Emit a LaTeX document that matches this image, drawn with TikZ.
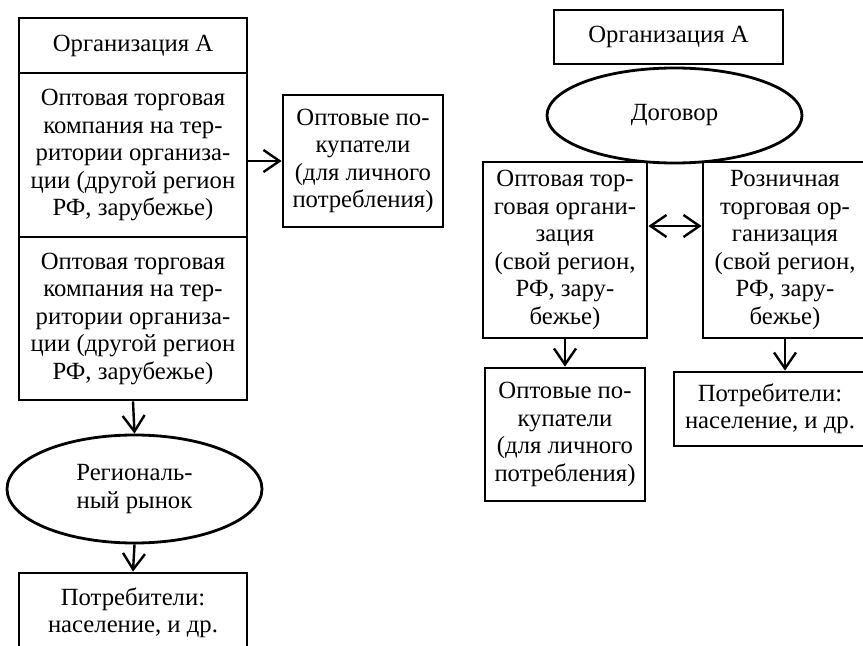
\documentclass[tikz,border=0pt]{standalone}
\usepackage{fontspec}
\setmainfont{Liberation Serif}
\usetikzlibrary{shapes.geometric,arrows.meta}
\tikzset{
  blk/.style={draw, line width=1.4bp, align=center, inner sep=0pt,
    font=\fontsize{12.4}{13.8}\selectfont},
  oval/.style={blk, ellipse},
  arr/.style={->, >={Straight Barb[length=8bp,width=11bp]}, line width=1.2bp}
}
\begin{document}
\begin{tikzpicture}[x=0.5bp, y=-0.5bp]
  \useasboundingbox (0,0) rectangle (863,646);
  \clip (0,0) rectangle (863,646);

  % левая схема
  \node[blk, minimum width=114bp, minimum height=27.5bp] (orgL) at (133,45.5) {Организация А};
  \node[blk, minimum width=114bp, minimum height=82bp] (wholeA) at (133,155)
    {Оптовая торговая\\компания на тер-\\ритории организа-\\ции (другой регион\\РФ, зарубежье)};
  \node[blk, minimum width=114bp, minimum height=81.5bp] (wholeB) at (133,318.5)
    {Оптовая торговая\\компания на тер-\\ритории организа-\\ции (другой регион\\РФ, зарубежье)};
  \node[blk, minimum width=80bp, minimum height=66bp] (buyL) at (363,161)
    {Оптовые по-\\купатели\\(для личного\\потребления)};
  \node[oval, minimum width=127.5bp, minimum height=54bp] (market) at (134.5,489)
    {Региональ-\\ный рынок};
  \node[blk, minimum width=114bp, minimum height=40bp] (consL) at (133,613)
    {Потребители:\\население, и др.};

  \draw[arr] (wholeA.east |- buyL.west) -- (buyL.west);
  \draw[arr] (wholeB.south) -- (market.north);
  \draw[arr] (market.south) -- (consL.north);

  % правая схема
  \node[blk, minimum width=114.5bp, minimum height=27bp] (orgR) at (668.5,37) {Организация А};
  \node[oval, minimum width=127.5bp, minimum height=47.5bp] (deal) at (674.5,115.5) {Договор};
  \node[blk, minimum width=82bp, minimum height=88bp] (wholeR) at (565,250)
    {Оптовая тор-\\говая органи-\\зация\\(свой регион,\\РФ, зару-\\бежье)};
  \node[blk, minimum width=82bp, minimum height=88bp] (retailR) at (785,250)
    {Розничная\\торговая ор-\\ганизация\\(свой регион,\\РФ, зару-\\бежье)};
  \node[blk, minimum width=80bp, minimum height=66.5bp] (buyR) at (565,434.5)
    {Оптовые по-\\купатели\\(для личного\\потребления)};
  \node[blk, minimum width=96bp, minimum height=37bp] (consR) at (770,409)
    {Потребители:\\население, и др.};

  \draw[arr, <->] ([yshift=12bp]wholeR.east) -- ([yshift=12bp]retailR.west);
  \draw[arr] (wholeR.south) -- (buyR.north);
  \draw[arr] (retailR.south) -- (retailR.south |- consR.north);
\end{tikzpicture}
\end{document}
